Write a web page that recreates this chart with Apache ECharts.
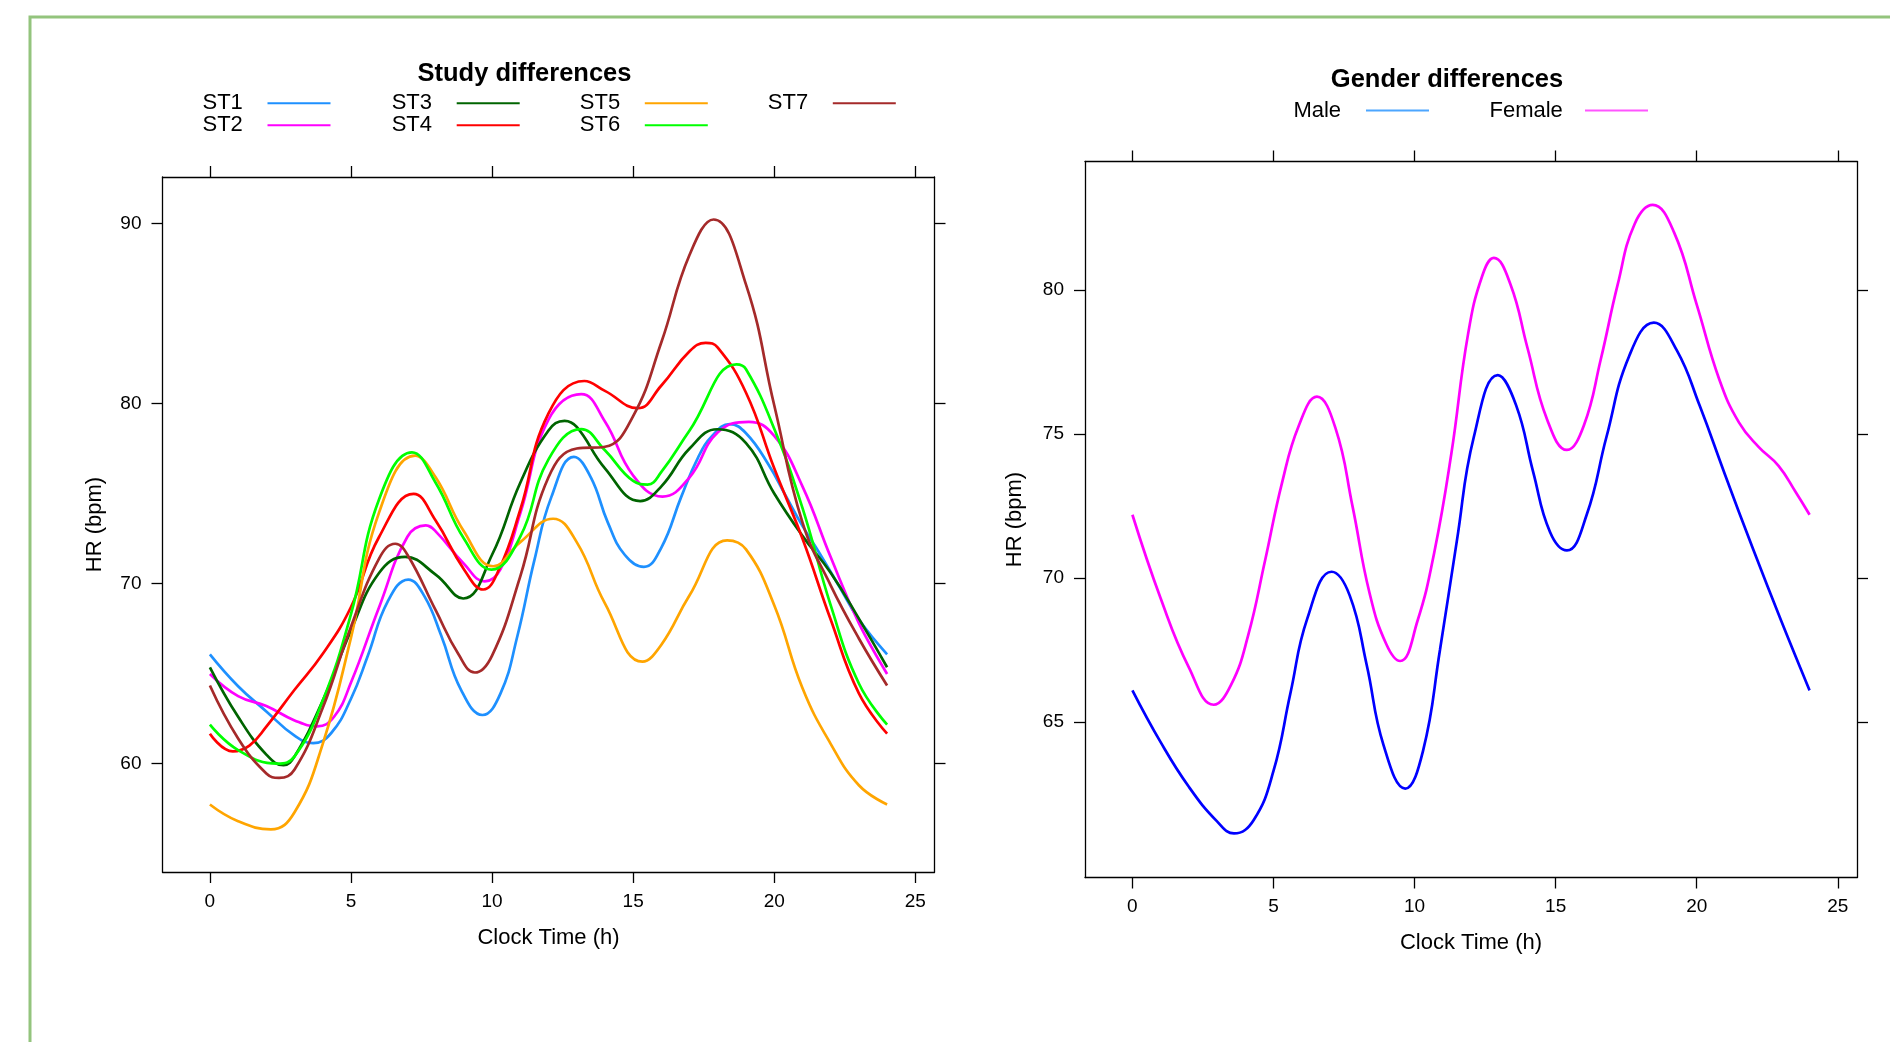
<!DOCTYPE html>
<html>
<head>
<meta charset="utf-8">
<script src="https://cdn.jsdelivr.net/npm/echarts@6/dist/echarts.min.js"></script>
<style>
html,body{margin:0;padding:0;background:#fff;}
#c{width:1890px;height:1042px;}
</style>
</head>
<body>
<div id="c"></div>
<script>
// ---- data: [clock time (h), HR (bpm)] ----
const st1 = [[0,66.07],[1,64.3],[2,62.9],[3,61.55],[3.66,61.14],[4.3,61.7],[5,63.6],[5.6,66.0],[6.3,69.0],[7.03,70.22],[7.6,69.3],[8.2,67.1],[8.9,64.1],[9.66,62.7],[10.3,63.9],[10.9,67.1],[11.5,71.3],[12.1,74.8],[12.9,77.04],[13.5,75.9],[14.1,73.4],[14.7,71.6],[15.38,70.93],[16,72.0],[16.7,74.8],[17.3,77.0],[17.8,78.2],[18.42,78.85],[19,78.35],[19.8,76.6],[20.4,74.9],[21,73.2],[21.6,71.7],[22.3,69.85],[23,68.0],[24,66.07]];
const st2 = [[0,64.98],[1,63.75],[2,63.2],[3,62.4],[3.8,62.07],[4.4,62.6],[5,64.5],[6,68.7],[7,72.6],[7.65,73.23],[8,72.9],[9,71.1],[9.74,70.12],[10.3,70.8],[11,73.9],[12,79.1],[13.16,80.52],[14,79.0],[15,76.0],[16.04,74.83],[17,75.9],[18,78.4],[19.1,78.98],[20,78.2],[21,75.4],[22,71.47],[23,67.8],[24,64.98]];
const st3 = [[0,65.35],[1,62.6],[2,60.5],[2.61,59.91],[3,60.4],[4,63.5],[5,67.4],[6,70.6],[6.92,71.48],[8,70.5],[8.98,69.17],[10,71.6],[11,75.6],[12,78.5],[12.57,79.04],[13,78.7],[14,76.4],[15.25,74.58],[16,75.4],[17,77.5],[17.98,78.57],[19,77.8],[20,75.0],[21,72.65],[22,70.6],[23,68.05],[24,65.35]];
const st4 = [[0,61.66],[0.81,60.68],[1.4,61.0],[2,62.05],[3,64.1],[4,66.1],[5,68.7],[6,72.6],[7.22,74.98],[8,73.5],[9,70.8],[9.69,69.67],[10.25,70.8],[11,74.1],[12,79.45],[13.27,81.25],[14,80.7],[15.16,79.74],[16,81.0],[17,82.9],[17.57,83.37],[18,83.1],[19,80.6],[20,76.4],[21,72.5],[22,68.0],[23,63.9],[24,61.66]];
const st5 = [[0,57.73],[1,56.8],[2.16,56.35],[3,57.3],[4,61.1],[5,67.0],[6,73.97],[7.27,77.1],[8,75.9],[9,72.9],[10.04,70.96],[11,72.3],[12.16,73.6],[13,72.3],[14,68.9],[15.33,65.66],[16,66.6],[17,69.35],[18.33,72.4],[19,71.9],[20,68.8],[21,64.2],[22,61.1],[23,58.8],[24,57.73]];
const st6 = [[0,62.16],[1,60.75],[2.39,60.0],[3,60.4],[4,63.5],[5,68.3],[6,74.7],[7.16,77.29],[8,75.6],[9,72.5],[9.98,70.77],[11,72.6],[12,76.9],[13.16,78.58],[14,77.4],[15,75.7],[15.51,75.5],[16,76.2],[17,78.5],[18.66,82.17],[19,81.9],[20,78.6],[21,74.2],[22,68.8],[23,64.45],[24,62.16]];
const st7 = [[0,64.34],[1,61.4],[2,59.45],[2.45,59.21],[3,59.67],[4,63.1],[5,67.6],[6,71.4],[6.57,72.21],[7,71.6],[8,68.52],[8.8,66.1],[9.39,65.06],[10,66.0],[11,70.4],[12,75.9],[13,77.5],[14,77.6],[15,79.3],[16,83.4],[17,88.26],[17.85,90.22],[19,86.6],[20,79.9],[21,73.4],[22,69.9],[23,66.95],[24,64.34]];
const male = [[0,66.1],[1,64.3],[2,62.75],[3,61.55],[3.6,61.13],[4.3,61.6],[5,63.3],[5.6,66.0],[6.2,68.6],[7.06,70.22],[7.7,69.4],[8.3,67.0],[8.9,64.2],[9.67,62.69],[10.3,64.0],[10.9,67.5],[11.5,71.3],[12.1,74.9],[12.95,77.05],[13.6,76.0],[14.2,73.7],[14.8,71.6],[15.4,70.96],[16.1,72.2],[16.8,74.9],[17.6,77.7],[18.48,78.87],[19.3,77.9],[20.1,76.0],[21,73.6],[22,71.0],[23,68.5],[24,66.1]];
const female = [[0,72.2],[1,69.3],[2,66.9],[2.88,65.6],[3.5,66.3],[4.1,68.0],[4.7,70.6],[5.3,73.3],[5.9,75.3],[6.54,76.3],[7.2,75.2],[7.8,72.5],[8.4,69.5],[9,67.7],[9.49,67.12],[10.1,68.5],[10.7,70.9],[11.3,74.3],[11.9,78.5],[12.4,80.5],[12.81,81.12],[13.4,80.2],[14,78.0],[14.7,75.5],[15.4,74.45],[16,75.3],[16.6,77.6],[17.2,80.2],[17.8,82.3],[18.44,82.96],[19.2,82.0],[20,79.5],[20.8,76.9],[21.5,75.4],[22.2,74.55],[22.9,73.9],[23.5,73.0],[24,72.2]];

const studyNames = ['ST1','ST2','ST3','ST4','ST5','ST6','ST7'];
const studyData = [st1, st2, st3, st4, st5, st6, st7];
const studyColors = ['#1e90ff','#ff00ff','#006400','#ff0000','#ffa500','#00ff00','#a52a2a'];
const genderNames = ['Male','Female'];
const genderData = [male, female];
const genderColors = ['#0000ff','#ff00ff'];
const genderLegendColors = ['#4da6ff','#ff55ff'];

const xTicks = [0,5,10,15,20,25];
const yTicksStudy = [60,70,80,90];
const yTicksGender = [65,70,75,80];
const xRange = [-1.68, 25.68];
const yRangeStudy = [53.98, 92.58];
const yRangeGender = [59.6, 84.47];

const FONT = '"Liberation Sans", Arial, Helvetica, sans-serif';
const BLACK = '#000';

function mkAxis(gridIndex, position, range, ticks, showLabel, name, nameGap, margin) {
  return {
    type: 'value', gridIndex: gridIndex, position: position,
    min: range[0], max: range[1],
    axisLine: {show: true, onZero: false, lineStyle: {color: BLACK, width: 1.3}},
    axisTick: {show: true, inside: false, length: 11, customValues: ticks, lineStyle: {color: BLACK, width: 1.3}},
    axisLabel: {show: showLabel, customValues: ticks, margin: margin, fontSize: 19, color: BLACK, fontFamily: FONT},
    splitLine: {show: false},
    name: name || '', nameLocation: 'middle', nameGap: nameGap || 0,
    nameTextStyle: {fontSize: 22, color: BLACK, fontFamily: FONT}
  };
}

const xAxes = [
  mkAxis(0, 'bottom', xRange, xTicks, true, 'Clock Time (h)', 54.5, 20),
  mkAxis(0, 'top', xRange, xTicks, false, '', 0, 20),
  mkAxis(1, 'bottom', xRange, xTicks, true, 'Clock Time (h)', 54.5, 20),
  mkAxis(1, 'top', xRange, xTicks, false, '', 0, 20)
];
const yAxes = [
  mkAxis(0, 'left', yRangeStudy, yTicksStudy, true, 'HR (bpm)', 57, 21),
  mkAxis(0, 'right', yRangeStudy, yTicksStudy, false, '', 0, 21),
  mkAxis(1, 'left', yRangeGender, yTicksGender, true, 'HR (bpm)', 59, 21),
  mkAxis(1, 'right', yRangeGender, yTicksGender, false, '', 0, 21)
];

const series = [];
studyNames.forEach(function (n, i) {
  series.push({
    name: n, type: 'line', xAxisIndex: 0, yAxisIndex: 0,
    data: studyData[i], smooth: 0.45, showSymbol: false, symbol: 'none',
    lineStyle: {color: studyColors[i], width: 2.7}, itemStyle: {color: studyColors[i]},
    emphasis: {disabled: true}
  });
});
genderNames.forEach(function (n, i) {
  series.push({
    name: n, type: 'line', xAxisIndex: 2, yAxisIndex: 2,
    data: genderData[i], smooth: 0.45, showSymbol: false, symbol: 'none',
    lineStyle: {color: genderColors[i], width: 2.7}, itemStyle: {color: genderColors[i]},
    emphasis: {disabled: true}
  });
});

function mkLegend(items, left, top, textWidth) {
  return {
    data: items, left: left, top: top, orient: 'vertical', align: 'right',
    icon: 'rect', itemWidth: 63, itemHeight: 2, itemGap: 0, padding: 0,
    selectedMode: false,
    formatter: function (name) { return '{a|' + name + '}'; },
    textStyle: {
      fontSize: 22, color: BLACK, fontFamily: FONT, lineHeight: 21,
      rich: {a: {width: textWidth, align: 'left', fontSize: 22, color: BLACK, fontFamily: FONT, lineHeight: 21}}
    }
  };
}

const legends = [
  mkLegend(['ST1','ST2'], 202.5, 92.3, 60),
  mkLegend(['ST3','ST4'], 391.7, 92.3, 60),
  mkLegend(['ST5','ST6'], 579.8, 92.3, 60),
  mkLegend(['ST7'], 767.8, 92.3, 60),
  mkLegend([{name: 'Male', itemStyle: {color: genderLegendColors[0]}}], 1293.4, 99.6, 67.6),
  mkLegend([{name: 'Female', itemStyle: {color: genderLegendColors[1]}}], 1489.5, 99.6, 90.5)
];

const chart = echarts.init(document.getElementById('c'));
chart.setOption({
  animation: false,
  backgroundColor: '#fff',
  textStyle: {fontFamily: FONT},
  grid: [
    {left: 162.5, top: 177, width: 772, height: 695},
    {left: 1085, top: 161.5, width: 772, height: 716}
  ],
  xAxis: xAxes,
  yAxis: yAxes,
  legend: legends,
  series: series,
  graphic: [
    {type: 'rect', silent: true, shape: {x: 30, y: 17, width: 1900, height: 1100},
     style: {fill: 'none', stroke: '#93c47d', lineWidth: 3}},
    {type: 'text', silent: true, x: 524.5, y: 74,
     style: {text: 'Study differences', fill: BLACK, font: 'bold 25.5px ' + FONT, align: 'center', verticalAlign: 'middle'}},
    {type: 'text', silent: true, x: 1447, y: 79.5,
     style: {text: 'Gender differences', fill: BLACK, font: 'bold 25.5px ' + FONT, align: 'center', verticalAlign: 'middle'}}
  ]
});
</script>
</body>
</html>
